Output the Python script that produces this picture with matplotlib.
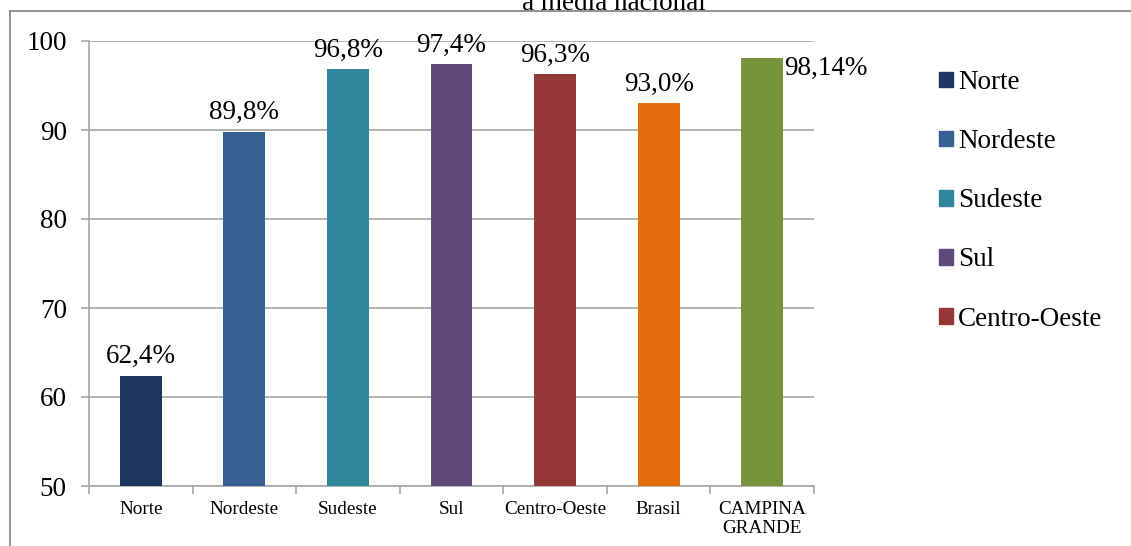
import matplotlib
matplotlib.use("Agg")
import matplotlib.pyplot as plt
from matplotlib.patches import Rectangle
from matplotlib.lines import Line2D

categories = ["Norte", "Nordeste", "Sudeste", "Sul", "Centro-Oeste", "Brasil", "CAMPINA\nGRANDE"]
values = [62.4, 89.8, 96.8, 97.4, 96.3, 93.0, 98.14]
value_labels = ["62,4%", "89,8%", "96,8%", "97,4%", "96,3%", "93,0%", "98,14%"]
colors = ["#1B375F", "#366092", "#31859C", "#604A7B", "#953735", "#E46C0A", "#77933C"]
legend_names = ["Norte", "Nordeste", "Sudeste", "Sul", "Centro-Oeste"]
yticks = [50, 60, 70, 80, 90, 100]
title_text = "a média nacional"

plt.rcParams['font.family'] = ['Liberation Serif', 'DejaVu Serif']

W, H = 1131, 546
fig = plt.figure(figsize=(W / 100, H / 100), dpi=100)

def fx(px):
    return px / W

def fy(py):
    return 1 - py / H

FS = 19.5

# outer frame (left and top visible)
fig.add_artist(Line2D([fx(10), fx(10)], [fy(11), 0], color="#7F7F7F", lw=1.2))
fig.add_artist(Line2D([fx(10), 1], [fy(11), fy(11)], color="#7F7F7F", lw=1.2))

# title, partly cut off at the top as in the reference
fig.text(fx(614), fy(10), title_text, ha="center", va="baseline", fontsize=FS)

ax = fig.add_axes([fx(89), fy(486), fx(814) - fx(89), fy(41) - fy(486)])
x = list(range(len(categories)))
bars = ax.bar(x, values, width=0.405, color=colors, zorder=3)
ax.set_ylim(50, 100)
ax.set_xlim(-0.5, len(categories) - 0.5)
ax.set_yticks(yticks)
ax.set_yticklabels([str(v) for v in yticks], fontsize=FS)
ax.yaxis.grid(True, color="#A6A6A6", lw=1.2, zorder=0)
ax.tick_params(axis="y", length=6, color="#A6A6A6", width=1.2, pad=10)

# category labels between boundary ticks
ax.set_xticks([i - 0.5 for i in range(len(categories) + 1)])
ax.set_xticklabels([])
ax.set_xticks(x, minor=True)
ax.set_xticklabels(categories, minor=True, fontsize=13.8, linespacing=1.15)
ax.tick_params(axis="x", which="major", length=6, color="#A6A6A6", width=1.2)
ax.tick_params(axis="x", which="minor", length=0, pad=11)

for side in ["top", "right"]:
    ax.spines[side].set_visible(False)
for side in ["left", "bottom"]:
    ax.spines[side].set_color("#A6A6A6")
    ax.spines[side].set_linewidth(1.2)

for i, (b, lab) in enumerate(zip(bars, value_labels)):
    if i == len(bars) - 1:
        ax.annotate(lab, (b.get_x() + b.get_width(), b.get_height()), xytext=(1, 1),
                    textcoords="offset points", ha="left", va="top", fontsize=FS)
    else:
        ax.annotate(lab, (b.get_x() + b.get_width() / 2, b.get_height()), xytext=(0, 9),
                    textcoords="offset points", ha="center", va="baseline", fontsize=FS)

handles = [Rectangle((0, 0), 1, 1, color=c) for c in colors[:len(legend_names)]]
leg = fig.legend(handles, legend_names, loc="upper left", bbox_to_anchor=(fx(939), fy(70)),
                 frameon=False, fontsize=FS, handlelength=0.52, handleheight=0.52,
                 handletextpad=0.18, labelspacing=1.26, borderpad=0, borderaxespad=0)

fig.savefig("out.png", dpi=100)
